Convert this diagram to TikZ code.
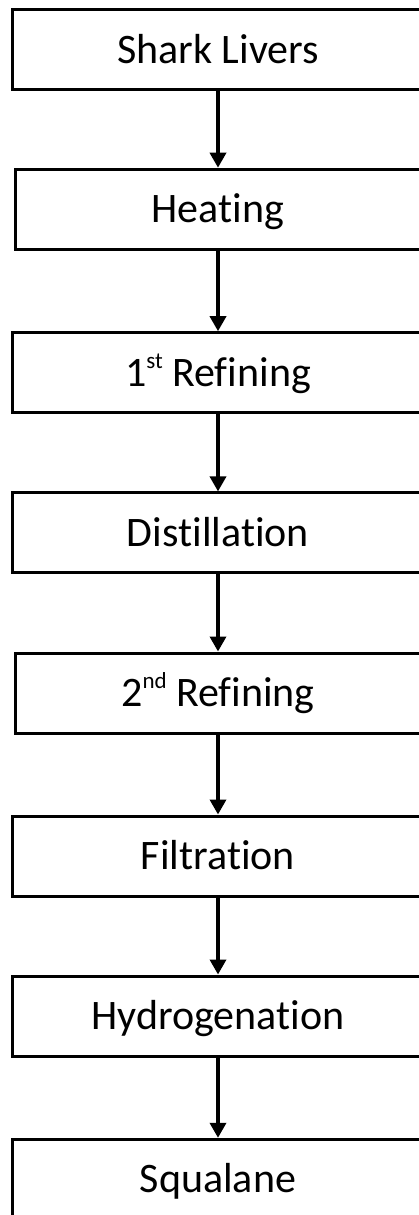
\documentclass[tikz,border=0pt]{standalone}
\usepackage{fontspec}
\setmainfont{Carlito}[Ligatures={NoCommon,NoContextual}]
\usetikzlibrary{arrows.meta}
\newcommand{\supr}[1]{\raisebox{18pt}{\fontsize{23}{23}\selectfont #1}}
\tikzset{
  stepbox/.style={draw=black, line width=3pt, minimum height=80pt, inner sep=0pt,
    text height=27pt, text depth=0pt, font=\fontsize{42}{50}\selectfont, text=black},
  wide/.style={minimum width=412pt},
  narrow/.style={minimum width=405pt},
  flow/.style={draw=black, line width=3.5pt, -{Triangle[width=16pt,length=15pt]}}
}
\begin{document}
\begin{tikzpicture}[x=1pt, y=-1pt]
\useasboundingbox (0,0) rectangle (419,1215);
\fill[white] (0,0) rectangle (419,1215);
\clip (0,0) rectangle (419,1215);
\node[stepbox, wide]   (s1) at (218,49.7)   {Shark Livers};
\node[stepbox, narrow] (s2) at (218,209.2)  {Heating};
\node[stepbox, wide]   (s3) at (218,372.7)  {1\supr{st} Refining};
\node[stepbox, wide]   (s4) at (218,532.9)  {Distillation};
\node[stepbox, narrow] (s5) at (218,693)    {2\supr{nd} Refining};
\node[stepbox, wide]   (s6) at (218,856)    {Filtration};
\node[stepbox, wide]   (s7) at (218,1016)   {Hydrogenation};
\node[stepbox, wide]   (s8) at (218,1179.3) {Squalane};
\draw[flow] (s1.south) -- (s2.north);
\draw[flow] (s2.south) -- (s3.north);
\draw[flow] (s3.south) -- (s4.north);
\draw[flow] (s4.south) -- (s5.north);
\draw[flow] (s5.south) -- (s6.north);
\draw[flow] (s6.south) -- (s7.north);
\draw[flow] (s7.south) -- (s8.north);
\end{tikzpicture}
\end{document}
